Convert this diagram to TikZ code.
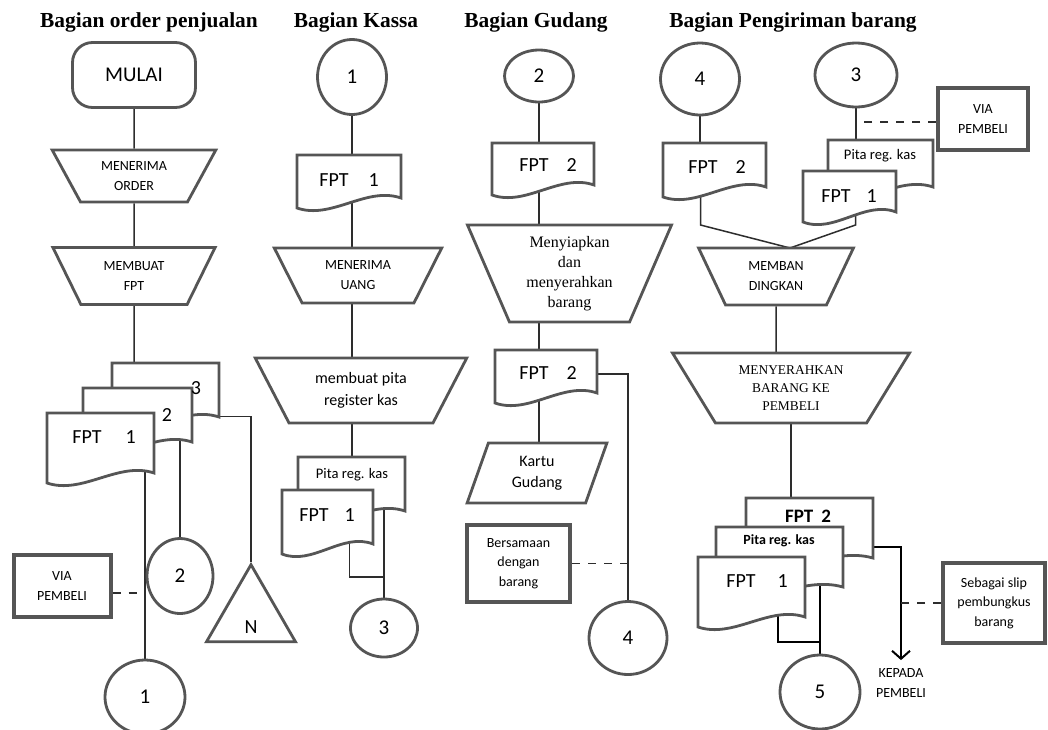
\documentclass[tikz,border=0pt]{standalone}
\usepackage{fontspec}
\setmainfont{Liberation Serif}
\newfontfamily\calib{Carlito}
\usetikzlibrary{shapes.geometric,arrows.meta,calc,fit,backgrounds}

\definecolor{shapegray}{RGB}{85,85,85}
\definecolor{linegray}{RGB}{45,45,45}

% document sheet with wavy bottom: name, left, top, right, middle of the wave
\newcommand{\docsheet}[5]{%
  \draw[shapeline,fill=white] (#2,#3) -- (#4,#3) -- (#4,#5-5)
    .. controls ({#2+(#4-#2)*2/3},#5-17) and ({#2+(#4-#2)/3},#5+17) .. (#2,#5+5) -- cycle;
  \node[fit={(#2,#3) (#4,#5)},inner sep=0pt] (#1) {};
}

\begin{document}
\begin{tikzpicture}[x=0.5pt,y=-0.5pt]
\tikzset{shapeline/.style={draw=shapegray,line width=1.4pt}}
\tikzset{conn/.style={draw=linegray,line width=0.75pt}}
\tikzset{connbold/.style={draw=black,line width=1pt}}
\tikzset{dashline/.style={conn,dash pattern=on 4pt off 4pt}}
\tikzset{arrowline/.style={draw=black,line width=1pt,-{Straight Barb[length=4pt,width=9pt]},shorten >=3pt}}
\tikzset{trap/.style={shapeline,fill=white,trapezium,shape border rotate=180,trapezium stretches=true,inner sep=0pt,align=center}}
\tikzset{conncirc/.style={shapeline,fill=white,ellipse,inner sep=0pt,font=\calib\fontsize{10.5}{12}\selectfont}}
\tikzset{notebox/.style={draw=shapegray,line width=2pt,fill=white,inner sep=0pt,align=center,font=\calib\fontsize{7}{9.8}\selectfont}}
\tikzset{smalltext/.style={font=\calib\fontsize{7}{10}\selectfont,align=center}}
\tikzset{fpttext/.style={font=\calib\fontsize{10}{12}\selectfont,inner sep=0pt}}
\tikzset{pitatext/.style={font=\calib\fontsize{7.3}{9}\selectfont,inner sep=0pt}}
\tikzset{headtext/.style={font=\bfseries\fontsize{10.7}{13}\selectfont}}

\useasboundingbox (0,0) rectangle (1048,729);

% headings
\node[headtext] (head1) at (149,22) {Bagian order penjualan};
\node[headtext] (head2) at (356,22) {Bagian Kassa};
\node[headtext] (head3) at (536,22) {Bagian Gudang};
\node[headtext] (head4) at (793,22) {Bagian Pengiriman barang};

% order penjualan
\node[shapeline,fill=white,rounded corners=10pt,minimum width=61.5pt,minimum height=32.5pt,
  font=\calib\fontsize{10.5}{12}\selectfont] (mulai) at (134,75) {MULAI};
\node[trap,smalltext,trapezium left angle=59,trapezium right angle=59,
  minimum width=82pt,minimum height=26pt] (order) at (134,176) {MENERIMA\\ORDER};
\node[trap,smalltext,trapezium left angle=61,trapezium right angle=61,
  minimum width=81.5pt,minimum height=28.5pt] (buatfpt) at (134,276) {MEMBUAT\\FPT};
\docsheet{fpt3}{112}{363}{219}{422}
\docsheet{fpt2}{83}{388}{192}{447}
\docsheet{fpt1}{47}{413}{154}{478}
\node[fpttext] (fpt3t) at (196,388) {3};
\node[fpttext] (fpt2t) at (167,415) {2};
\node[fpttext] (fpt1t) at (104,437) {FPT\hspace{12pt}1};
\node[conncirc,minimum width=40pt,minimum height=37pt] (c1) at (145,697) {1};
\node[conncirc,minimum width=33pt,minimum height=37.5pt] (c2) at (180,576) {2};
\node[shapeline,fill=white,regular polygon,regular polygon sides=3,minimum size=51.3pt,
  inner sep=0pt,text height=17pt,text depth=0pt,font=\calib\fontsize{10}{12}\selectfont] (tri) at (251,616) {N};
\node[notebox,minimum width=48.5pt,minimum height=31pt] (via1) at (62,586) {VIA\\PEMBELI};

% kassa
\node[conncirc,minimum width=34.5pt,minimum height=37.5pt] (k1) at (352,77) {1};
\docsheet{kfpt}{297}{155}{401}{203}
\node[fpttext] (kfptt) at (349,180) {FPT\hspace{10pt}1};
\node[trap,smalltext,trapezium left angle=60.6,trapezium right angle=60.6,
  minimum width=84pt,minimum height=27.5pt] (uang) at (358,275.5) {MENERIMA\\UANG};
\node[trap,font=\calib\fontsize{8}{11}\selectfont,trapezium left angle=59,trapezium right angle=59,
  minimum width=106pt,minimum height=32.5pt] (buatpita) at (361,390.5) {membuat pita\\register kas};
\docsheet{kpita}{298}{457}{405}{516}
\node[pitatext] (kpitat) at (352,475) {Pita reg. kas};
\docsheet{kfpt2}{282}{490}{373}{549}
\node[fpttext] (kfpt2t) at (327,515) {FPT\hspace{8pt}1};
\node[conncirc,minimum width=33.5pt,minimum height=29pt] (k3) at (384,628) {3};
\coordinate (kjoin) at (384,577);

% gudang
\node[conncirc,minimum width=34.5pt,minimum height=26pt] (g2) at (539,76) {2};
\docsheet{gfpt}{492}{143}{594}{190}
\node[fpttext] (gfptt) at (548,165) {FPT\hspace{9pt}2};
\node[trap,font=\fontsize{8}{10}\selectfont,trapezium left angle=68,trapezium right angle=68,
  minimum width=102.5pt,minimum height=48.5pt] (siap) at (569.5,273.5) {Menyiapkan\\dan\\menyerahkan\\barang};
\docsheet{gfpt2}{495}{350}{597}{398}
\node[fpttext] (gfpt2t) at (548,373) {FPT\hspace{9pt}2};
\node[shapeline,fill=white,trapezium,trapezium left angle=72,trapezium right angle=108,
  trapezium stretches=true,minimum width=70pt,minimum height=30pt,inner sep=0pt,
  font=\calib\fontsize{8}{10.5}\selectfont,align=center] (kartu) at (537,473) {Kartu\\Gudang};
\node[notebox,minimum width=51.5pt,minimum height=38.5pt] (sama) at (518.5,563.5) {Bersamaan\\dengan\\barang};
\node[conncirc,minimum width=39pt,minimum height=36.5pt] (g4) at (628,638) {4};

% pengiriman barang
\node[conncirc,minimum width=39.5pt,minimum height=36pt] (p4) at (700,79) {4};
\node[conncirc,minimum width=41pt,minimum height=32pt] (p3) at (856,75) {3};
\node[notebox,minimum width=45pt,minimum height=31pt] (via2) at (983,119) {VIA\\PEMBELI};
\docsheet{pfpt2}{663}{143}{766}{192}
\node[fpttext] (pfpt2t) at (717,167) {FPT\hspace{9pt}2};
\docsheet{ppita}{828}{140}{933}{192}
\node[pitatext] (ppitat) at (880,156) {Pita reg. kas};
\docsheet{pfpt1}{803}{171}{896}{217}
\node[fpttext] (pfpt1t) at (849,196) {FPT\hspace{8pt}1};
\node[trap,smalltext,trapezium left angle=63,trapezium right angle=63,
  minimum width=77.5pt,minimum height=28.5pt] (banding) at (776,276.5) {MEMBAN\\DINGKAN};
\node[trap,font=\fontsize{6.7}{9}\selectfont,trapezium left angle=56.4,trapezium right angle=56.4,
  minimum width=119pt,minimum height=35pt] (serah) at (791,388) {MENYERAHKAN\\BARANG KE\\PEMBELI};
\docsheet{sfpt2}{746}{498}{873}{563}
\node[fpttext,font=\calib\bfseries\fontsize{9.5}{11}\selectfont] (sfpt2t) at (808,516) {FPT\hspace{4pt}2};
\docsheet{spita}{716}{527}{843}{592}
\node[pitatext,font=\calib\bfseries\fontsize{7}{9}\selectfont] (spitat) at (779,541) {Pita reg. kas};
\docsheet{sfpt1}{698}{557}{805}{622}
\node[fpttext] (sfpt1t) at (757,581) {FPT\hspace{11pt}1};
\node[conncirc,minimum width=40pt,minimum height=37pt] (c5) at (820,692) {5};
\coordinate (sjoin) at (820,642);
\node[smalltext,inner sep=1pt] (kepada) at (901,683) {KEPADA\\PEMBELI};
\node[notebox,minimum width=51pt,minimum height=40pt] (slip) at (994,603) {Sebagai slip\\pembungkus\\barang};

\begin{pgfonlayer}{background}
\fill[white] (0,0) rectangle (1048,729);
% order penjualan
\draw[conn] (mulai) -- (order);
\draw[conn] (order) -- (buatfpt);
\draw[conn] (buatfpt) -- (buatfpt |- fpt3.north);
\draw[conn] (c1) -- (c1 |- fpt1.center);
\draw[conn] (c2) -- (c2 |- fpt2.center);
\draw[conn] (tri.corner 1) |- ([yshift=3pt]fpt3.south east);
\draw[dashline] ([yshift=-3.5pt]via1.east) -- ([yshift=-3.5pt]via1.east -| c1);
% kassa
\draw[conn] (k1) -- (k1 |- kfpt.center);
\draw[conn] (k1 |- kfpt.center) -- (k1 |- uang.center);
\draw[conn] (k1 |- uang.center) -- (k1 |- buatpita.center);
\draw[conn] (k1 |- buatpita.center) -- (k1 |- kpita.center);
\draw[conn] (k3) -- (k3 |- kpita.center);
\draw[conn] ([xshift=11pt]kfpt2.center) |- (kjoin);
% gudang
\draw[conn] (g2) -- (g2 |- gfpt.center);
\draw[conn] (g2 |- gfpt.center) -- (g2 |- siap.center);
\draw[conn] (g2 |- siap.center) -- (g2 |- gfpt2.center);
\draw[conn] (g2 |- gfpt2.center) -- (g2 |- kartu.center);
\draw[conn] (gfpt2.center) -| (g4);
\draw[dashline] (sama) -- (sama -| g4);
% pengiriman barang
\draw[conn] (p4) -- (p4 |- pfpt2.center);
\draw[conn] (p3) -- (p3 |- ppita.center);
\draw[dashline] ([yshift=-1.5pt]via2.west) -- ([yshift=-1.5pt]via2.west -| p3);
\draw[conn] ([xshift=-7pt]pfpt2.center) -- ($(pfpt2.center |- banding.center)+(-14,-51.5)$)
  -- ($(banding.center)+(14,-28.5)$) -- ($(pfpt1.center |- banding.center)+(6,-51.5)$)
  -- ([xshift=3pt]pfpt1.center);
\draw[conn] (banding) -- (banding |- serah.center);
\draw[conn] (serah.center) -- (serah.center |- sfpt2.center);
\draw[connbold] (c5) -- (c5 |- spita.center);
\draw[connbold] ([xshift=13pt]sfpt1.center) |- (sjoin);
\draw[arrowline] ([yshift=-8pt]sfpt2.east) -| (kepada);
\draw[dashline] (slip) -- (slip -| kepada);
\end{pgfonlayer}
\end{tikzpicture}
\end{document}
